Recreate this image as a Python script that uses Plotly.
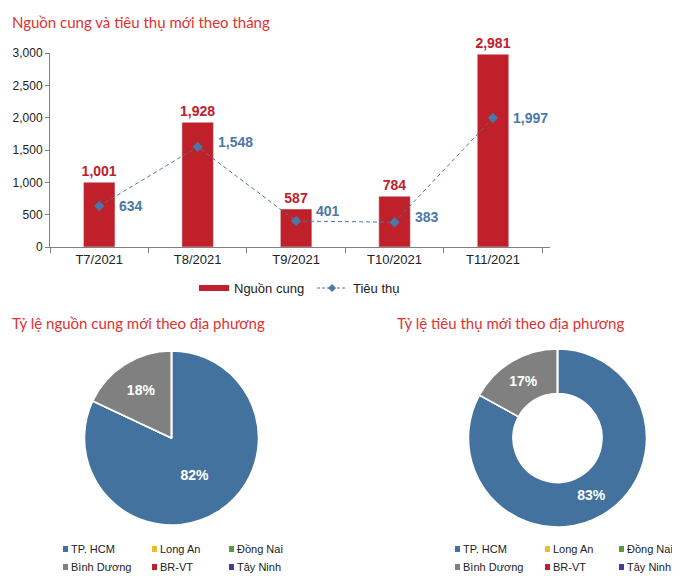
import plotly.graph_objects as go

# monthly data
months = ["T7/2021", "T8/2021", "T9/2021", "T10/2021", "T11/2021"]
supply = [1001, 1928, 587, 784, 2981]
absorption = [634, 1548, 401, 383, 1997]
series_names = ["Nguồn cung", "Tiêu thụ"]

# share by province (%)
regions = ["TP. HCM", "Long An", "Đồng Nai", "Bình Dương", "BR-VT", "Tây Ninh"]
region_colors = ["#44729f", "#e6c028", "#5b9a3c", "#808080", "#c0202a", "#4b3a98"]
supply_share = [82, 0, 0, 18, 0, 0]
absorption_share = [83, 0, 0, 17, 0, 0]

# the page puts the plot 8px in from the corner, so draw it a bit smaller
OFF = 8
W, H = 680 - OFF, 576 - OFF
RED = "#c0202a"
BLUE = "#4a78a8"
TITLE_RED = "#e0322f"
SANS = "Liberation Sans, Arial, sans-serif"
TITLE_FONT = "Lato, sans-serif"

# vertical nudge of the line labels (px)
label_dy = [0, 5, 10, 5, 0]


def px_x(x):
    return (x - OFF) / W


def px_y(y):
    return 1 - (y - OFF) / H


fig = go.Figure()

fig.add_trace(go.Bar(
    x=months, y=supply, name=series_names[0],
    marker_color=RED, width=0.32,
    text=[f"<b>{v:,}</b>" for v in supply], textposition="outside",
    constraintext="none",
    textfont=dict(color=RED, size=14, family=SANS),
    cliponaxis=False, showlegend=False,
))
fig.add_trace(go.Scatter(
    x=months, y=absorption, name=series_names[1], mode="lines+markers",
    line=dict(color=BLUE, width=1, dash="4px,3px"),
    marker=dict(symbol="diamond", size=8, color=BLUE), showlegend=False,
))

# labels right of the line points
for m, v, dy in zip(months, absorption, label_dy):
    fig.add_annotation(x=m, y=v, text=f"<b>{v:,}</b>", showarrow=False,
                       xanchor="left", xshift=18, yshift=dy,
                       font=dict(color=BLUE, size=14, family=SANS))

# pies
fig.add_trace(go.Pie(
    labels=regions, values=supply_share, sort=False, direction="clockwise",
    rotation=0, marker=dict(colors=region_colors, line=dict(color="white", width=1.5)),
    text=[f"<b>{v}%</b>" if v else "" for v in supply_share], textinfo="text",
    textposition="inside", insidetextorientation="horizontal",
    textfont=dict(color="white", size=14, family=SANS),
    showlegend=False, hoverinfo="label+percent", automargin=False,
    domain=dict(x=[px_x(84.5), px_x(258.5)], y=[px_y(525), px_y(351)]),
))
fig.add_trace(go.Pie(
    labels=regions, values=absorption_share, sort=False, direction="clockwise",
    rotation=0, hole=0.5,
    marker=dict(colors=region_colors, line=dict(color="white", width=1.5)),
    text=[f"<b>{v}%</b>" if v else "" for v in absorption_share], textinfo="text",
    textposition="inside", insidetextorientation="horizontal",
    textfont=dict(color="white", size=14, family=SANS),
    showlegend=False, hoverinfo="label+percent", automargin=False,
    domain=dict(x=[px_x(468.5), px_x(646.5)], y=[px_y(527), px_y(349)]),
))

# titles
for x, y, t in [(10, 22, "Nguồn cung và tiêu thụ mới theo tháng"),
                (10, 323, "Tỷ lệ nguồn cung mới theo địa phương"),
                (395, 323, "Tỷ lệ tiêu thụ mới theo địa phương")]:
    fig.add_annotation(x=px_x(x), y=px_y(y), xref="paper", yref="paper",
                       text=t, showarrow=False, xanchor="left", yanchor="middle",
                       font=dict(color=TITLE_RED, size=15, family=TITLE_FONT))

# legend of the bar chart, drawn by hand (wide red key like the original)
fig.add_shape(type="rect", xref="paper", yref="paper",
              x0=px_x(199), x1=px_x(229), y0=px_y(291), y1=px_y(285),
              fillcolor=RED, line_width=0)
fig.add_shape(type="line", xref="paper", yref="paper",
              x0=px_x(317), x1=px_x(347), y0=px_y(288), y1=px_y(288),
              line=dict(color=BLUE, width=1, dash="3px,2px"))
fig.add_shape(type="path", xref="paper", yref="paper",
              path=(f"M {px_x(332)} {px_y(284)} L {px_x(336)} {px_y(288)} "
                    f"L {px_x(332)} {px_y(292)} L {px_x(328)} {px_y(288)} Z"),
              fillcolor=BLUE, line_width=0)
for x, name in zip([232, 351], series_names):
    fig.add_annotation(x=px_x(x), y=px_y(288), xref="paper", yref="paper",
                       text=name, showarrow=False, xanchor="left", yanchor="middle",
                       font=dict(color="#222222", size=13, family=SANS))

# pie legends drawn by hand (3 columns x 2 rows)
for cols in ([63, 152, 229], [455, 545, 619]):
    for i, (name, col) in enumerate(zip(regions, region_colors)):
        x0 = cols[i % 3]
        yc = 549 + 18 * (i // 3)
        fig.add_shape(type="rect", xref="paper", yref="paper",
                      x0=px_x(x0), x1=px_x(x0 + 5), y0=px_y(yc + 3), y1=px_y(yc - 3),
                      fillcolor=col, line_width=0)
        fig.add_annotation(x=px_x(x0 + 6), y=px_y(yc), xref="paper", yref="paper",
                           text=name, showarrow=False, xanchor="left", yanchor="middle",
                           font=dict(color="#222222", size=11, family=SANS))

fig.update_layout(
    width=W, height=H, margin=dict(l=0, r=0, t=0, b=0, autoexpand=False),
    paper_bgcolor="white", plot_bgcolor="white",
    showlegend=False,
    xaxis=dict(domain=[px_x(50), px_x(550)], type="category", showline=True,
               linecolor="#808080", ticks="outside", tickson="boundaries",
               ticklen=5, tickcolor="#808080", showgrid=False, automargin=False,
               tickfont=dict(size=13, family=SANS, color="#222222")),
    yaxis=dict(domain=[px_y(247), px_y(53)], range=[0, 3000], dtick=500,
               tickformat=",", showline=True, linecolor="#808080",
               ticks="outside", ticklen=4, tickcolor="#808080", showgrid=False,
               zeroline=False, automargin=False,
               tickfont=dict(size=12, family=SANS, color="#222222")),
    bargap=0.68,
)

fig.write_html("out.html")
